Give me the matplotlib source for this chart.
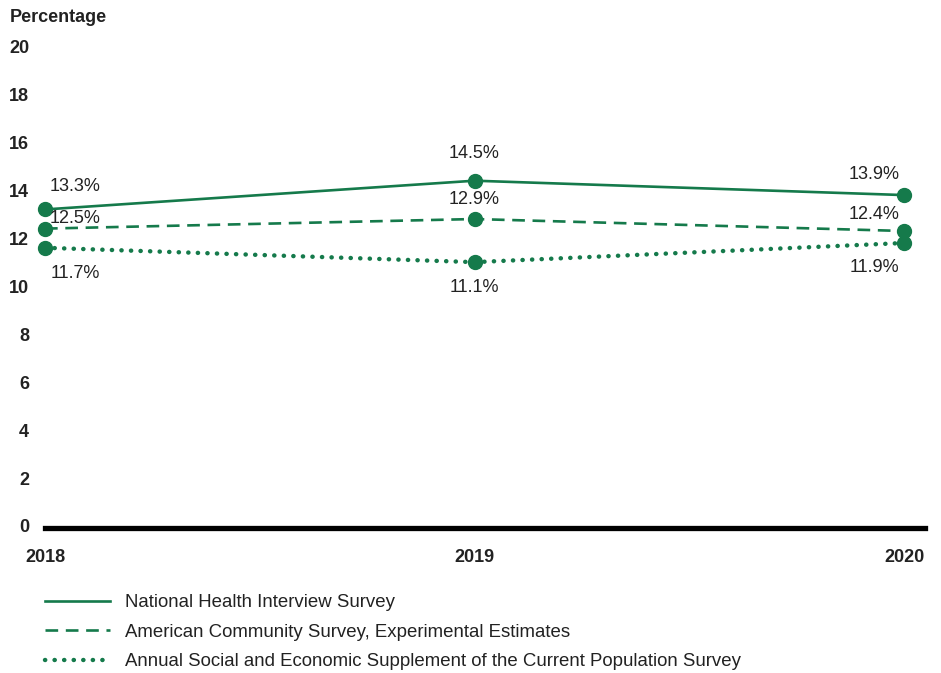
import matplotlib.pyplot as plt
from matplotlib.transforms import blended_transform_factory

plt.rcParams['font.family'] = ['Liberation Sans', 'DejaVu Sans']

years = [2018, 2019, 2020]
nhis = [13.3, 14.5, 13.9]
acs = [12.5, 12.9, 12.4]
asec = [11.7, 11.1, 11.9]
series_names = ['National Health Interview Survey',
                'American Community Survey, Experimental Estimates',
                'Annual Social and Economic Supplement of the Current Population Survey']
yticks = [0, 2, 4, 6, 8, 10, 12, 14, 16, 18, 20]

green = '#157a4b'

fig = plt.figure(figsize=(9.41, 6.73), dpi=100)
ax = fig.add_axes([45/941, (673-528)/673, 880/941, 491/673])

kw = dict(color=green, marker='o', ms=10, clip_on=False)
l1, = ax.plot(years, nhis, lw=1.9, label=series_names[0], **kw)
l2, = ax.plot(years, acs, lw=1.9, ls=(0, (4.8, 2.9)), label=series_names[1], **kw)
l3, = ax.plot(years, asec, lw=3.2, ls=(0, (0.05, 2.1)), dash_capstyle='round',
              label=series_names[2], **kw)

# label offsets in pixels (dx, dy), per series per year
offs = [
    [(30, 23), (0, 27), (-30, 21)],
    [(30, 10), (0, 20), (-30, 17)],
    [(30, -26), (0, -25), (-30, -25)],
]
for vals, off in zip([nhis, acs, asec], offs):
    for x, v, (dx, dy) in zip(years, vals, off):
        ax.annotate(f'{v:.1f}%', xy=(x, v), xytext=(dx*0.72, dy*0.72), textcoords='offset points',
                    ha='center', va='center', fontsize=13, color='#222222')

ax.set_xlim(2018, 2020 + 21/430)
ax.set_ylim(0, 20.5)
for s in ['top', 'right', 'left']:
    ax.spines[s].set_visible(False)
ax.spines['bottom'].set_linewidth(3.8)
ax.spines['bottom'].set_color('black')

ax.set_yticks(yticks)
ax.set_yticklabels([])
ax.tick_params(axis='y', length=0)
trans = blended_transform_factory(fig.transFigure, ax.transData)
for t in yticks:
    ax.text(29/941, t, str(t), transform=trans, ha='right', va='center',
            fontsize=13, fontweight='bold', color='#222222')
fig.text(10/941, 1 - 17/673, 'Percentage', ha='left', va='center',
         fontsize=13, fontweight='bold', color='#222222')

ax.set_xticks(years)
ax.set_xticklabels([str(y) for y in years], fontsize=13, fontweight='bold', color='#222222')
ax.tick_params(axis='x', length=0, pad=15)

leg = fig.legend(handles=[l1, l2, l3], loc='upper left', bbox_to_anchor=(45/941, 1 - 594/673),
                 frameon=False, fontsize=13.4, handlelength=3.5, handletextpad=0.8,
                 labelspacing=0.68, borderpad=0, borderaxespad=0)
for h in leg.legend_handles:
    h.set_marker('')
for txt in leg.get_texts():
    txt.set_color('#222222')

plt.savefig('out.png', dpi=100)
